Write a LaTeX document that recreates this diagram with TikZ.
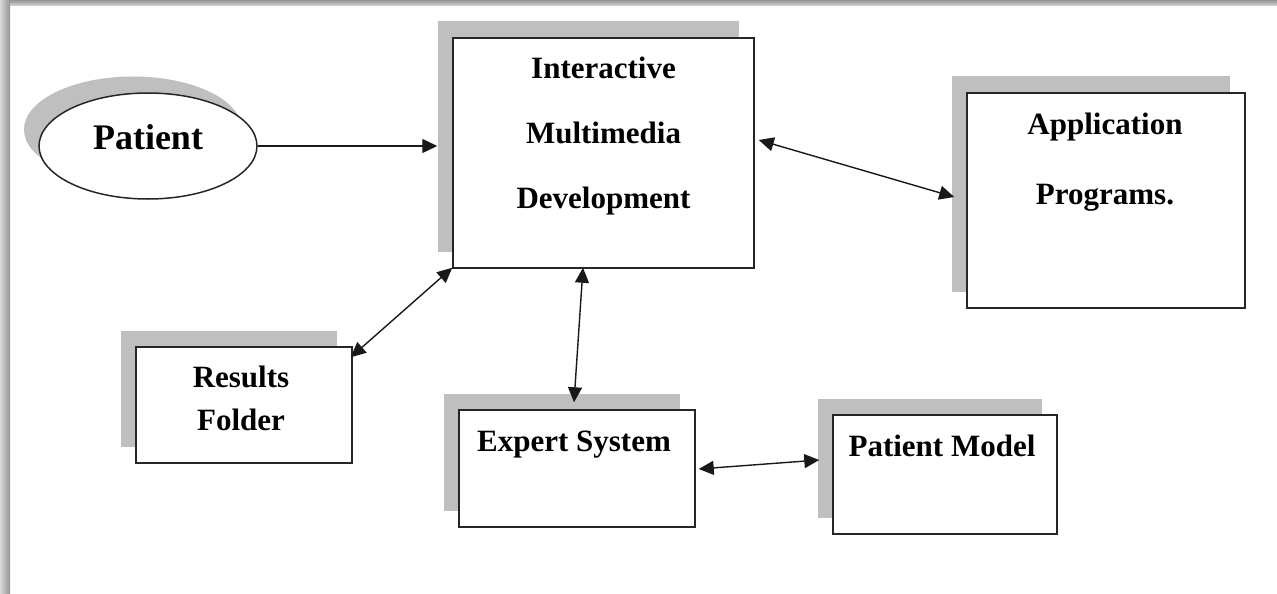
\documentclass[tikz,border=0pt]{standalone}
\usepackage{fontspec}
\setmainfont{Liberation Serif}
\usetikzlibrary{shadows,arrows.meta,shapes.geometric}
\begin{document}
\begin{tikzpicture}[x=1pt,y=-1pt,
  >={Triangle[length=15pt,width=14pt]},
  box/.style={draw=black!85,line width=1.5pt,fill=white,inner sep=0pt,
     general shadow={fill=black!25,shadow xshift=-15pt,shadow yshift=16.5pt}},
  lbl/.style={font=\fontsize{31}{31}\selectfont\bfseries,anchor=base,inner sep=0pt},
  arr/.style={line width=1.4pt,black!90}]
\useasboundingbox (0,0) rectangle (1277,594);
\fill[white] (0,0) rectangle (1277,594);
\shade[top color=black!42,bottom color=black!15] (0,0) rectangle (1277,6);
\shade[left color=black!15,right color=black!42] (0,0) rectangle (10,594);
% boxes
\node[box,ellipse,minimum width=218pt,minimum height=106pt] (P) at (148,146) {};
\node[box,minimum width=301pt,minimum height=230pt] (IMD) at (603.5,153) {};
\node[box,minimum width=278pt,minimum height=215pt] (App) at (1106,200.5) {};
\node[box,minimum width=216pt,minimum height=116pt] (Res) at (244,405) {};
\node[box,minimum width=236pt,minimum height=117pt] (Exp) at (577,468.5) {};
\node[box,minimum width=224pt,minimum height=119pt] (PM) at (945,474.5) {};
% labels
\node[lbl,font=\fontsize{36}{36}\selectfont\bfseries] (Pt) at (148,149) {Patient};
\node[lbl] (IMD1) at (603.5,78) {Interactive};
\node[lbl] (IMD2) at (603.5,143) {Multimedia};
\node[lbl] (IMD3) at (603.5,208) {Development};
\node[lbl] (App1) at (1105,134) {Application};
\node[lbl] (App2) at (1105,204) {Programs.};
\node[lbl] (Res1) at (241,387) {Results};
\node[lbl] (Res2) at (241,430) {Folder};
\node[lbl] (Exp1) at (574,451) {Expert System};
\node[lbl] (PM1) at (942,456) {Patient Model};
% connectors
\draw[arr,->,shorten >=15pt] (P.east) -- (IMD.west |- P.east);
\draw[arr,<->] ([xshift=4pt,yshift=13pt]IMD.east) -- ([xshift=-12pt,yshift=3.5pt]App.west);
\draw[arr,<->] ([yshift=1pt]IMD.south west) -- ([xshift=-2pt,yshift=-11pt]Res.north east);
\draw[arr,<->] ([xshift=-20.5pt,yshift=1pt]IMD.south) -- ([xshift=-3pt,yshift=7pt]Exp.north);
\draw[arr,<->] ([xshift=3pt,yshift=-0.5pt]Exp.east) -- ([xshift=-13pt,yshift=14.5pt]PM.west);
\end{tikzpicture}
\end{document}
